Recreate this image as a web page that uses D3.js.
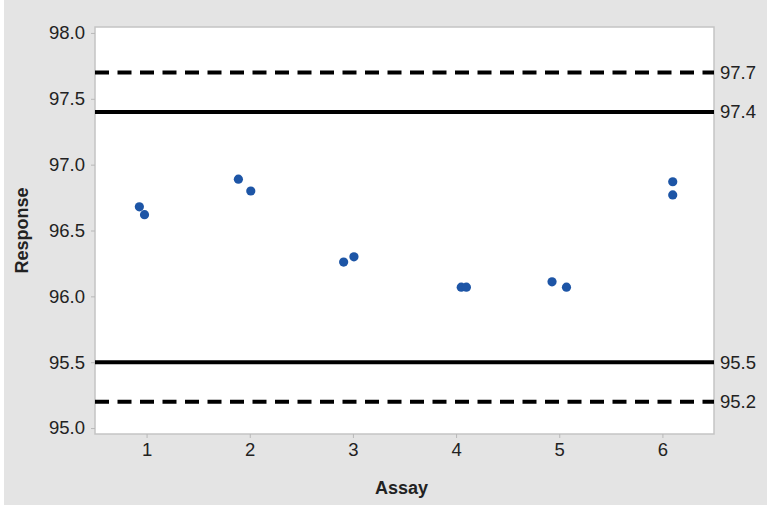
<!DOCTYPE html>
<html>
<head>
<meta charset="utf-8">
<script src="https://cdn.jsdelivr.net/npm/d3@7"></script>
<style>
    body { margin: 0; background: #fff; }
    svg { display: block; }
    text { font-family: "Liberation Sans", Arial, sans-serif; fill: #222; }
</style>
</head>
<body>
<div class="chart-container"></div>
<script>
// values (points are jittered around each assay)
const assayPos = [0.93, 0.98, 1.89, 2.01, 2.91, 3.01, 4.05, 4.10, 4.93, 5.07, 6.10, 6.10];
const responses = [96.68, 96.62, 96.89, 96.80, 96.26, 96.30, 96.07, 96.07, 96.11, 96.07, 96.87, 96.77];
const xTicks = [1, 2, 3, 4, 5, 6];
const yTicks = [95.0, 95.5, 96.0, 96.5, 97.0, 97.5, 98.0];
const dashedLimits = [97.7, 95.2];
const solidLimits = [97.4, 95.5];

const width = 767;
const height = 506;
const margin = { top: 27, right: 53, bottom: 72, left: 95 };
const innerW = width - margin.left - margin.right;
const innerH = height - margin.top - margin.bottom;

const svg = d3.select('.chart-container')
              .append('svg')
              .attr('width', width)
              .attr('height', height);

svg.append('rect')
   .attr('x', 4)
   .attr('y', 0)
   .attr('width', width - 4)
   .attr('height', height - 1)
   .attr('fill', '#e4e4e4');

const xScale = d3.scaleLinear()
                 .domain([0.5, 6.5])
                 .range([0, innerW]);

const yScale = d3.scaleLinear()
                 .domain([94.955, 98.045])
                 .range([innerH, 0]);

const g = svg.append('g')
             .attr('transform', 'translate(' + margin.left + ',' + margin.top + ')');

g.append('rect')
 .attr('width', innerW)
 .attr('height', innerH)
 .attr('fill', '#fff')
 .attr('stroke', '#c4c4c4')
 .attr('stroke-width', 1.5);

const yAxis = d3.axisLeft(yScale)
                .tickValues(yTicks)
                .tickFormat(d3.format('.1f'))
                .tickSize(4)
                .tickPadding(6);
const yg = g.append('g').call(yAxis);

const xAxis = d3.axisBottom(xScale)
                .tickValues(xTicks)
                .tickFormat(d3.format('d'))
                .tickSize(4)
                .tickPadding(5);
const xg = g.append('g')
            .attr('transform', 'translate(0,' + innerH + ')')
            .call(xAxis);

[yg, xg].forEach(ax => {
    ax.select('.domain').remove();
    ax.selectAll('.tick line').attr('stroke', '#b8b8b8');
    ax.selectAll('.tick text')
      .attr('font-size', 18.5)
      .attr('font-family', '"Liberation Sans", Arial, sans-serif')
      .attr('fill', '#222');
});

// limit lines
g.selectAll('line.dashed')
 .data(dashedLimits)
 .enter()
 .append('line')
 .attr('x1', 0)
 .attr('x2', innerW)
 .attr('y1', d => yScale(d))
 .attr('y2', d => yScale(d))
 .attr('stroke', '#000')
 .attr('stroke-width', 4)
 .attr('stroke-dasharray', '14,8.5');

g.selectAll('line.solid')
 .data(solidLimits)
 .enter()
 .append('line')
 .attr('x1', 0)
 .attr('x2', innerW)
 .attr('y1', d => yScale(d))
 .attr('y2', d => yScale(d))
 .attr('stroke', '#000')
 .attr('stroke-width', 4);

g.selectAll('text.limit')
 .data(dashedLimits.concat(solidLimits))
 .enter()
 .append('text')
 .attr('x', innerW + 6)
 .attr('y', d => yScale(d))
 .attr('dy', '0.35em')
 .attr('font-size', 18.5)
 .text(d => d3.format('.1f')(d));

// points
g.selectAll('circle')
 .data(responses)
 .enter()
 .append('circle')
 .attr('cx', (d, i) => xScale(assayPos[i]))
 .attr('cy', d => yScale(d))
 .attr('r', 4.6)
 .attr('fill', '#1d55a6');

// axis titles
svg.append('text')
   .attr('x', margin.left + innerW / 2 - 3)
   .attr('y', 494)
   .attr('text-anchor', 'middle')
   .attr('font-size', 18)
   .attr('font-weight', 'bold')
   .text('Assay');

svg.append('text')
   .attr('transform', 'translate(28,' + (margin.top + innerH / 2) + ') rotate(-90)')
   .attr('text-anchor', 'middle')
   .attr('font-size', 18)
   .attr('font-weight', 'bold')
   .text('Response');
</script>
</body>
</html>
